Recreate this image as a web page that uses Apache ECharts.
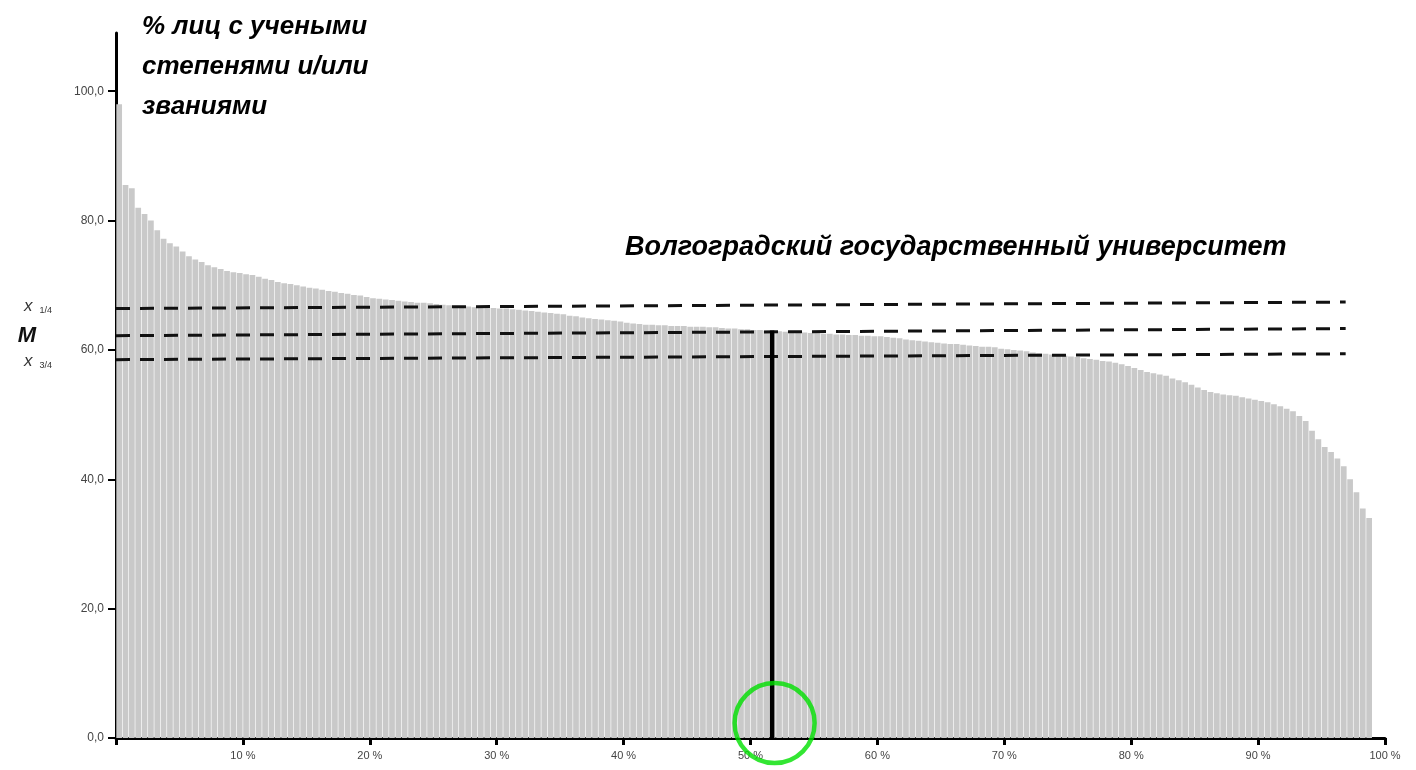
<!DOCTYPE html>
<html>
<head>
<meta charset="utf-8">
<script src="https://cdn.jsdelivr.net/npm/echarts@6/dist/echarts.min.js"></script>
<style>
html,body{margin:0;padding:0;background:#fff;}
#chart{width:1416px;height:770px;}
</style>
</head>
<body>
<div id="chart"></div>
<script>
// share of staff with academic degrees / titles, universities sorted descending,
// each bar = 0.5 % of universities (last two slots empty)
const shareValues = [
  98.0, 85.5, 85.0, 82.0, 81.0, 80.0, 78.5, 77.2, 76.5, 76.0,
  75.2, 74.5, 74.0, 73.6, 73.1, 72.8, 72.5, 72.2, 72.0, 71.9,
  71.7, 71.6, 71.3, 71.0, 70.8, 70.5, 70.3, 70.2, 70.0, 69.8,
  69.6, 69.5, 69.3, 69.1, 69.0, 68.8, 68.7, 68.5, 68.4, 68.2,
  68.0, 67.9, 67.8, 67.7, 67.6, 67.5, 67.4, 67.3, 67.3, 67.2,
  67.1, 67.0, 66.9, 66.8, 66.8, 66.7, 66.6, 66.6, 66.5, 66.5,
  66.4, 66.4, 66.3, 66.2, 66.1, 66.0, 65.9, 65.8, 65.7, 65.6,
  65.5, 65.3, 65.2, 65.0, 64.9, 64.8, 64.7, 64.6, 64.5, 64.4,
  64.2, 64.1, 64.0, 63.9, 63.9, 63.8, 63.8, 63.7, 63.7, 63.7,
  63.6, 63.6, 63.6, 63.5, 63.5, 63.4, 63.3, 63.3, 63.2, 63.2,
  63.1, 63.1, 63.0, 63.0, 62.9, 62.8, 62.8, 62.7, 62.7, 62.6,
  62.6, 62.5, 62.5, 62.4, 62.4, 62.3, 62.3, 62.2, 62.2, 62.1,
  62.1, 62.0, 61.9, 61.8, 61.6, 61.5, 61.4, 61.3, 61.2, 61.1,
  61.0, 60.9, 60.9, 60.8, 60.7, 60.6, 60.5, 60.5, 60.4, 60.2,
  60.1, 60.0, 59.9, 59.8, 59.6, 59.5, 59.4, 59.3, 59.2, 59.1,
  59.0, 58.9, 58.7, 58.6, 58.5, 58.3, 58.2, 58.0, 57.8, 57.5,
  57.2, 56.9, 56.6, 56.4, 56.2, 56.0, 55.6, 55.3, 55.0, 54.6,
  54.2, 53.8, 53.5, 53.3, 53.1, 53.0, 52.9, 52.7, 52.5, 52.3,
  52.1, 51.9, 51.6, 51.3, 50.9, 50.5, 49.8, 49.0, 47.5, 46.2,
  45.0, 44.2, 43.2, 42.0, 40.0, 38.0, 35.5, 34.0, null, null
];
const slotLabels = shareValues.map((v, i) => (i * 0.5).toFixed(1));

// quartile / median reference lines: [percent, value] at start and end
const q1Line = [[0, 66.4], [96.9, 67.4]];
const medianLine = [[0, 62.2], [96.9, 63.3]];
const q3Line = [[0, 58.5], [96.9, 59.4]];

// Volgograd State University position
const vguLine = [[51.7, 0], [51.7, 63.0]];
const vguCircle = [[51.9, 2.3]];

const yTicks = [0, 20, 40, 60, 80, 100];
const xTickStep = 10;

const titleText = '% лиц с учеными\nстепенями и/или\nзваниями';
const vguText = 'Волгоградский государственный университет';

const FONT = 'Liberation Sans';
const chart = echarts.init(document.getElementById('chart'));

const dashStyle = { color: '#111', width: 3, type: [14, 10] };
function leftLabel(fmt, dist, dy) {
  return {
    show: true, position: 'left', distance: dist, offset: [0, dy || 0],
    formatter: fmt,
    rich: {
      x: { fontFamily: FONT, fontSize: 17, fontStyle: 'italic', color: '#333' },
      s: { fontFamily: FONT, fontSize: 9, color: '#333', padding: [7, 0, 0, 7] },
      m: { fontFamily: FONT, fontSize: 22, fontStyle: 'italic', fontWeight: 'bold', color: '#111' }
    }
  };
}
function dashed(data, label) {
  return {
    type: 'line', xAxisIndex: 1, yAxisIndex: 0, silent: true,
    symbol: 'circle', symbolSize: 0, showSymbol: true,
    itemStyle: { color: 'rgba(0,0,0,0)' },
    lineStyle: dashStyle, z: 5,
    data: [{ value: data[0], label: label }, { value: data[1] }]
  };
}

chart.setOption({
  animation: false,
  backgroundColor: '#fff',
  title: [
    { text: titleText, left: 137, top: 2,
      textStyle: { fontFamily: FONT, fontSize: 26, fontWeight: 'bold', fontStyle: 'italic', color: '#000', lineHeight: 40 } },
    { text: vguText, left: 620, top: 229,
      textStyle: { fontFamily: FONT, fontSize: 27, fontWeight: 'bold', fontStyle: 'italic', color: '#000' } }
  ],
  grid: { left: 116, right: 31, top: 33, bottom: 32 },
  xAxis: [
    { type: 'category', data: slotLabels, show: false, boundaryGap: true, position: 'bottom' },
    { type: 'value', min: 0, max: 100, interval: xTickStep, position: 'bottom',
      splitLine: { show: false },
      axisLine: { show: true, onZero: false, lineStyle: { color: '#000', width: 3 } },
      axisTick: { show: true, inside: false, length: 7, lineStyle: { color: '#000', width: 3 } },
      axisLabel: { margin: 12, fontFamily: FONT, fontSize: 11, color: '#444',
        formatter: v => v === 0 ? '' : v + ' %' } }
  ],
  yAxis: [{
    type: 'value', min: 0, max: 109,
    splitLine: { show: false },
    axisLine: { show: true, lineStyle: { color: '#000', width: 3 } },
    axisTick: { show: true, length: 8, customValues: yTicks, lineStyle: { color: '#000', width: 2 } },
    axisLabel: { customValues: yTicks, margin: 12, fontFamily: FONT, fontSize: 12, color: '#444',
      formatter: v => v.toFixed(1).replace('.', ',') }
  }],
  series: [
    { type: 'bar', xAxisIndex: 0, yAxisIndex: 0, data: shareValues, silent: true,
      barCategoryGap: '10%', itemStyle: { color: '#c9c9c9' }, z: 1 },
    dashed(q1Line, leftLabel('{x|x}{s|1/4}', 64, -2)),
    dashed(medianLine, leftLabel('{m|M}', 80, 0)),
    dashed(q3Line, leftLabel('{x|x}{s|3/4}', 64, 2)),
    { type: 'line', xAxisIndex: 1, yAxisIndex: 0, data: vguLine, silent: true,
      symbol: 'none', lineStyle: { color: '#000', width: 4.5 }, z: 6 },
    { type: 'scatter', xAxisIndex: 1, yAxisIndex: 0, data: vguCircle, silent: true, clip: false,
      symbol: 'circle', symbolSize: 80,
      itemStyle: { color: 'rgba(0,0,0,0)', borderColor: '#00e000', borderWidth: 4.5 }, z: 7 }
  ]
});
</script>
</body>
</html>
